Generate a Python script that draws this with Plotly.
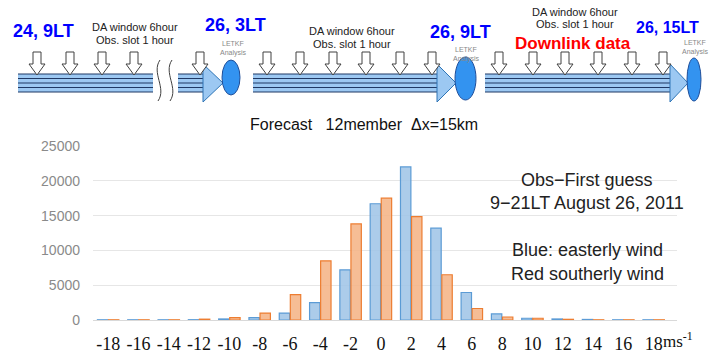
import plotly.graph_objects as go

# ---------------- data ----------------
categories = [-18, -16, -14, -12, -10, -8, -6, -4, -2, 0, 2, 4, 6, 8, 10, 12, 14, 16, 18]
easterly = [30, 30, 30, 40, 150, 350, 1000, 2500, 7200, 16700, 22000, 13200, 3950, 870, 250, 150, 80, 30, 30]
southerly = [30, 30, 30, 120, 330, 1000, 3650, 8500, 13800, 17500, 14850, 6500, 1650, 430, 250, 100, 30, 30, 30]
y_ticks = [0, 5000, 10000, 15000, 20000, 25000]
y_ticktext = ["0", "5000", "10000", "15000", "20000", "25000"]

W, H = 713, 353


def px(x):
    return x / W


def py(y):
    return 1 - y / H


fig = go.Figure()
xlabels = [str(c) for c in categories]
fig.add_trace(go.Bar(x=xlabels, y=easterly, name="easterly",
                     marker=dict(color="rgba(157,195,230,0.85)", line=dict(color="#5b9bd5", width=1.2))))
fig.add_trace(go.Bar(x=xlabels, y=southerly, name="southerly",
                     marker=dict(color="rgba(244,177,131,0.85)", line=dict(color="#ed7d31", width=1.2))))

shapes = []
annotations = []

# ---------------- diagram (top) ----------------
band_top, band_bot = 74, 92
band_mid = (band_top + band_bot) / 2
segments = [(18, 153), (178, 205), (253, 439), (485, 672)]
heads = [(203, 223), (437, 456), (670, 688)]
ellipses = [(222, 240, 60, 95), (455, 476, 57, 100), (687, 701, 58, 101)]
down_x = [37, 70, 102, 134, 200, 267, 300, 333, 366, 400, 432, 499, 533, 565, 598, 632, 663]

for x0, x1 in segments:
    shapes.append(dict(type="rect", xref="paper", yref="paper", x0=px(x0), x1=px(x1),
                       y0=py(band_bot), y1=py(band_top), fillcolor="#9cc8f2", line=dict(width=0), layer="above"))
    for k in range(5):
        yy = band_top + k * (band_bot - band_top) / 4
        shapes.append(dict(type="line", xref="paper", yref="paper", x0=px(x0), x1=px(x1),
                           y0=py(yy), y1=py(yy), line=dict(color="#1f3864", width=1), layer="above"))

for h0, tip in heads:
    path = "M {},{} L {},{} L {},{} Z".format(px(h0), py(64), px(tip), py(band_mid), px(h0), py(102))
    shapes.append(dict(type="path", xref="paper", yref="paper", path=path,
                       fillcolor="#9cc8f2", line=dict(color="#2e75b6", width=1), layer="above"))

for x0, x1, y0, y1 in ellipses:
    shapes.append(dict(type="circle", xref="paper", yref="paper", x0=px(x0), x1=px(x1),
                       y0=py(y1), y1=py(y0), fillcolor="#3393f0", line=dict(color="#1f4e99", width=1), layer="above"))

for cx in down_x:
    pts = [(cx - 4, 52), (cx + 4, 52), (cx + 4, 64), (cx + 8, 64), (cx, 75), (cx - 8, 64), (cx - 4, 64)]
    path = "M " + " L ".join("{},{}".format(px(a), py(b)) for a, b in pts) + " Z"
    shapes.append(dict(type="path", xref="paper", yref="paper", path=path,
                       fillcolor="white", line=dict(color="#404040", width=1), layer="above"))

# wavy break lines
for wx in (160, 172):
    path = "M {},{} C {},{} {},{} {},{}".format(px(wx), py(60), px(wx - 9), py(73), px(wx + 7), py(88), px(wx - 2), py(101))
    shapes.append(dict(type="path", xref="paper", yref="paper", path=path,
                       line=dict(color="#404040", width=1), layer="above"))


def txt(text, x, y, size, color="#222222", bold=False, family="Liberation Sans, Arial, sans-serif", anchor="center"):
    if bold:
        text = "<b>" + text + "</b>"
    annotations.append(dict(text=text, x=px(x), y=py(y), xref="paper", yref="paper",
                            showarrow=False, xanchor=anchor, yanchor="middle",
                            font=dict(size=size, color=color, family=family)))


blue = "#0000ff"
txt("24, 9LT", 43, 31, 18, blue, True)
txt("26, 3LT", 235, 25, 18, blue, True)
txt("26, 9LT", 460, 32, 18, blue, True)
txt("26, 15LT", 667, 28, 16, blue, True)
txt("DA window 6hour", 135, 27, 11)
txt("Obs. slot 1 hour", 135, 40, 11)
txt("DA window 6hour", 352, 31, 11)
txt("Obs. slot 1 hour", 352, 44, 11)
txt("DA window 6hour", 575, 12, 11)
txt("Obs. slot 1 hour", 575, 24, 11)
txt("Downlink data", 573, 43, 17, "#ff0000", True)
for cx, ly in ((233, 43), (466, 49), (695, 42)):
    txt("LETKF", cx, ly, 7, "#888888")
    txt("Analysis", cx, ly + 10, 7, "#888888")
txt("Forecast   12member  \u0394x=15km", 364, 124, 16, "#111111")

# ---------------- chart annotations ----------------
txt("Obs\u2212First guess", 587, 180, 18)
txt("9\u221221LT August 26, 2011", 587, 203, 18)
txt("Blue: easterly wind", 587, 250, 18)
txt("Red southerly wind", 587, 274, 18)
txt("ms<sup>-1</sup>", 661, 340, 17, "#111111", family="Liberation Serif, Times New Roman, serif", anchor="left")

fig.update_layout(
    width=W, height=H,
    margin=dict(l=0, r=0, t=0, b=0),
    paper_bgcolor="white", plot_bgcolor="white",
    showlegend=False,
    barmode="group", bargap=0.27, bargroupgap=0.06,
    shapes=shapes, annotations=annotations,
    xaxis=dict(domain=[px(93), px(677)], range=[-0.5, 18.77], type="category",
               showgrid=False, showline=True, linecolor="#d9d9d9", linewidth=1,
               ticks="", ticklabelstandoff=7,
               tickfont=dict(family="Liberation Serif, Times New Roman, serif", size=18, color="#111111"),
               automargin=False),
    yaxis=dict(domain=[py(320), py(146)], range=[0, 25000], tickvals=y_ticks, ticktext=y_ticktext,
               showgrid=True, gridcolor="#e6e6e6", gridwidth=1, zeroline=False,
               ticks="", ticklabelstandoff=12,
               tickfont=dict(family="Liberation Sans, Arial, sans-serif", size=14, color="#8a8a8a"),
               automargin=False),
)

fig.write_html("out.html", config={"displayModeBar": False},
               post_script="document.body.style.margin='0';document.body.style.overflow='hidden';")
